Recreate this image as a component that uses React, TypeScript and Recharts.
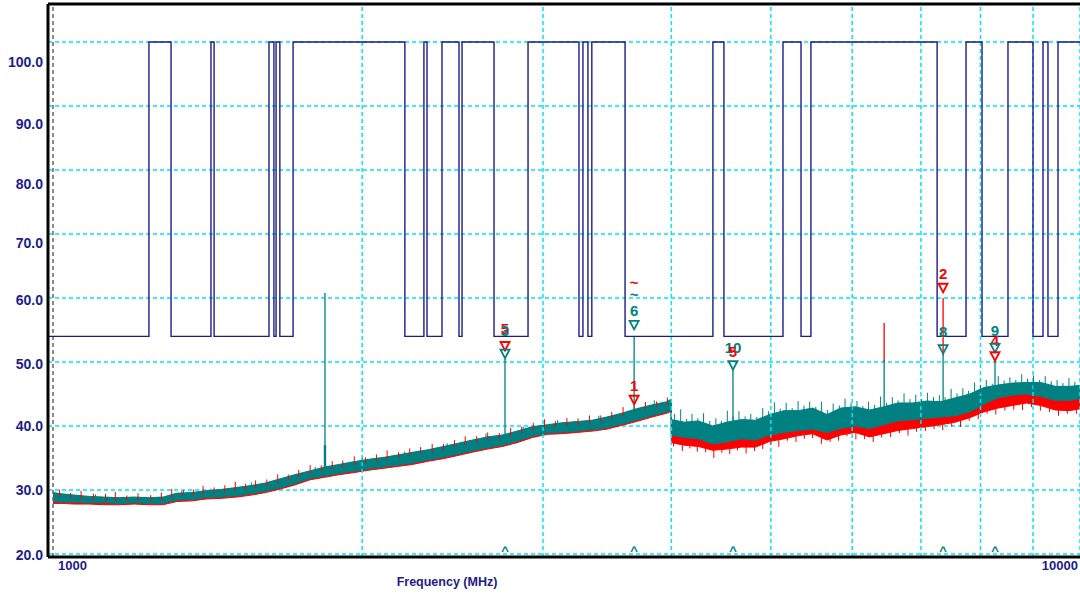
import React from "react";
import {
  ComposedChart,
  Area,
  Line,
  XAxis,
  YAxis,
  CartesianGrid,
  ReferenceLine,
  ReferenceDot,
} from "recharts";

// ---------- data ----------
// Trace envelope, band below 4 GHz (MHz / dBuV)
const FREQ_A = [1000, 1020, 1050, 1085, 1120, 1160, 1200, 1240, 1280, 1320, 1365, 1410, 1460, 1510, 1560, 1610, 1660, 1720, 1780, 1840, 1900, 1960, 2030, 2100, 2170, 2240, 2320, 2400, 2480, 2560, 2650, 2740, 2830, 2930, 3030, 3130, 3240, 3350, 3460, 3580, 3700, 3830, 3960, 3999];
const TEAL_LO_A = [28.2, 28.1, 28.1, 28.0, 28.0, 27.9, 28.0, 27.9, 27.9, 28.4, 28.5, 28.8, 28.9, 29.1, 29.4, 29.8, 30.3, 31.0, 31.8, 32.2, 32.6, 32.9, 33.3, 33.6, 33.9, 34.2, 34.7, 35.1, 35.6, 36.1, 36.6, 37.0, 37.6, 38.4, 38.9, 39.0, 39.2, 39.4, 39.7, 40.3, 40.9, 41.6, 42.2, 42.5];
const TEAL_HI_A = [29.6, 29.4, 29.2, 29.0, 28.9, 28.8, 28.9, 28.8, 28.9, 29.5, 29.6, 29.9, 30.1, 30.4, 30.7, 31.1, 31.7, 32.4, 33.0, 33.6, 34.0, 34.4, 34.8, 35.1, 35.5, 35.9, 36.3, 36.8, 37.3, 37.8, 38.3, 38.6, 39.2, 39.9, 40.2, 40.5, 40.7, 40.9, 41.4, 42.0, 42.7, 43.3, 43.8, 44.2];
const RED_LO_A = [27.9, 27.9, 27.8, 27.8, 27.7, 27.7, 27.8, 27.7, 27.7, 28.2, 28.3, 28.6, 28.7, 28.9, 29.2, 29.6, 30.1, 30.8, 31.6, 32.0, 32.4, 32.7, 33.1, 33.4, 33.7, 34.0, 34.5, 34.9, 35.4, 35.9, 36.4, 36.8, 37.4, 38.2, 38.7, 38.8, 39.0, 39.2, 39.5, 40.1, 40.7, 41.4, 42.0, 42.3];
const RED_HI_A = [29.5, 29.3, 29.1, 28.9, 28.8, 28.7, 28.8, 28.7, 28.8, 29.4, 29.5, 29.8, 30.0, 30.3, 30.6, 31.0, 31.6, 32.3, 32.9, 33.5, 33.9, 34.3, 34.7, 35.0, 35.4, 35.8, 36.2, 36.7, 37.2, 37.7, 38.2, 38.5, 39.1, 39.8, 40.1, 40.4, 40.6, 40.8, 41.3, 41.9, 42.6, 43.2, 43.7, 44.1];

// Trace envelope, band above 4 GHz
const FREQ_B = [4000, 4120, 4250, 4390, 4530, 4680, 4830, 4990, 5150, 5320, 5490, 5670, 5850, 6040, 6240, 6440, 6650, 6870, 7090, 7320, 7560, 7810, 8060, 8320, 8590, 8870, 9160, 9460, 9770, 10090, 10230];
const TEAL_LO_B = [38.6, 38.2, 38.0, 37.2, 37.5, 38.0, 37.8, 38.6, 39.0, 39.3, 39.5, 39.0, 39.6, 40.0, 39.6, 40.2, 40.8, 41.0, 41.2, 41.4, 41.6, 42.2, 43.4, 44.4, 44.8, 45.0, 44.6, 44.0, 44.0, 44.4, 44.4];
const TEAL_HI_B = [41.0, 40.6, 40.8, 40.0, 40.6, 41.0, 40.9, 41.8, 42.4, 42.4, 42.8, 41.8, 42.8, 43.0, 42.5, 43.0, 43.6, 43.6, 43.9, 43.8, 44.4, 45.0, 46.0, 46.4, 46.7, 46.8, 46.8, 46.2, 46.2, 46.4, 46.4];
const RED_LO_B = [37.4, 37.0, 36.8, 36.2, 36.4, 36.7, 36.7, 37.6, 38.0, 38.5, 38.8, 37.8, 38.6, 39.0, 38.3, 38.8, 39.3, 39.6, 39.9, 40.2, 40.6, 41.3, 42.2, 42.8, 43.2, 43.6, 43.2, 42.5, 42.4, 42.8, 42.8];
const RED_HI_B = [39.0, 38.7, 38.5, 37.8, 38.0, 38.4, 38.2, 39.0, 39.6, 40.0, 40.3, 39.3, 40.1, 40.5, 39.8, 40.3, 40.8, 41.0, 41.2, 41.6, 42.0, 42.9, 43.8, 44.4, 44.8, 45.1, 44.8, 44.2, 44.0, 44.4, 44.4];

// Noise spikes on the red trace (frequency, level where the spike leaves the band, tip level)
const RED_NOISE_FREQ = [1015, 1040, 1065, 1095, 1125, 1150, 1180, 1210, 1245, 1275, 1305, 1335, 1370, 1400, 1435, 1470, 1505, 1540, 1575, 1615, 1655, 1695, 1735, 1780, 1825, 1870, 1915, 1965, 2015, 2065, 2115, 2170, 2225, 2280, 2340, 2400, 2460, 2520, 2585, 2650, 2720, 2790, 2860, 2935, 3010, 3085, 3165, 3245, 3330, 3415, 3500, 3590, 3680, 3775, 3870, 3965,
  4020, 4100, 4170, 4240, 4320, 4400, 4480, 4560, 4640, 4730, 4820, 4910, 5000, 5090, 5190, 5290, 5390, 5490, 5600, 5710, 5820, 5930, 6050, 6170, 6290, 6410, 6540, 6670, 6800, 6930, 7070, 7210, 7350, 7500, 7650, 7800, 7960, 8120, 8280, 8450, 8620, 8790, 8970, 9150, 9340, 9530, 9720, 9920, 10120];
const RED_NOISE_FROM = [28.95, 28.75, 28.6, 28.5, 28.4, 28.3, 28.35, 28.4, 28.3, 28.4, 28.8, 29.05, 29.1, 29.35, 29.5, 29.65, 29.9, 30.1, 30.3, 30.65, 31.15, 31.6, 32.05, 32.5, 32.95, 33.3, 33.6, 33.95, 34.2, 34.45, 34.7, 35.0, 35.3, 35.7, 35.9, 36.3, 36.7, 37.0, 37.4, 37.8, 38.0, 38.4, 38.9, 39.4, 39.65, 39.85, 40.05, 40.2, 40.35, 40.75, 41.1, 41.55, 42.1, 42.55, 42.95, 43.35,
  37.9, 37.7, 37.5, 37.4, 37.1, 36.8, 36.9, 37.1, 37.2, 37.3, 37.3, 37.8, 38.2, 38.45, 38.7, 39.0, 39.2, 39.4, 38.8, 38.6, 39.1, 39.4, 39.6, 39.15, 39.0, 39.3, 39.65, 39.9, 40.1, 40.3, 40.5, 40.65, 40.85, 41.1, 41.45, 41.9, 42.45, 42.95, 43.3, 43.6, 43.85, 44.1, 44.05, 43.8, 43.4, 43.1, 43.0, 43.2, 43.4];
const RED_NOISE_TIP = [30.05, 29.55, 29.9, 29.4, 29.4, 29.7, 29.15, 29.5, 29.2, 29.6, 30.2, 29.85, 30.1, 30.65, 30.4, 30.75, 31.3, 31.0, 31.5, 31.65, 32.45, 32.4, 33.15, 33.9, 33.85, 34.5, 34.6, 35.25, 35.1, 35.55, 36.2, 35.9, 36.5, 36.7, 37.2, 37.2, 37.8, 38.4, 38.4, 39.0, 38.9, 39.7, 39.9, 40.5, 41.05, 40.75, 41.25, 41.2, 41.65, 41.65, 42.2, 42.95, 43.1, 43.75, 43.85, 44.45,
  36.8, 36.1, 36.5, 36.0, 35.9, 35.0, 35.8, 35.6, 36.2, 35.7, 36.1, 36.4, 37.1, 36.75, 37.7, 37.5, 38.0, 38.1, 37.2, 37.5, 37.7, 38.4, 37.9, 37.95, 37.5, 38.2, 38.25, 38.9, 38.5, 39.1, 39.2, 39.55, 39.35, 39.9, 39.85, 40.8, 41.05, 41.95, 41.8, 42.4, 42.55, 42.5, 42.95, 42.4, 42.2, 41.6, 41.9, 41.9, 42.2];

// Noise spikes on the teal trace
const TEAL_NOISE_FREQ = [1100, 1340, 1560, 1800, 2000, 2200, 2420, 2640, 2870, 3100, 3400, 3850,
  4030, 4085, 4140, 4190, 4245, 4300, 4360, 4420, 4475, 4535, 4595, 4655, 4720, 4780, 4845, 4910, 4975, 5040, 5105, 5175, 5245, 5315, 5385, 5455, 5530, 5600, 5675, 5750, 5830, 5905, 5985, 6065, 6145, 6225, 6310, 6395, 6480, 6565, 6650, 6740, 6830, 6920, 7010, 7105, 7200, 7295, 7390, 7490, 7590, 7690, 7790, 7895, 8000, 8105, 8215, 8325, 8435, 8545, 8660, 8775, 8890, 9010, 9130, 9250, 9375, 9500, 9625, 9755, 9885, 10015, 10150];
const TEAL_NOISE_FROM = [28.6, 29.2, 30.2, 32.7, 34.3, 35.2, 36.6, 38.0, 39.1, 40.0, 40.6, 43.1,
  40.2, 39.9, 39.8, 39.9, 40.0, 39.7, 39.4, 39.3, 39.6, 39.8, 40.0, 40.2, 40.2, 40.1, 40.2, 40.6, 40.9, 41.2, 41.4, 41.6, 41.6, 41.6, 41.8, 41.9, 41.8, 41.4, 41.0, 41.5, 41.9, 42.1, 42.2, 42.1, 41.9, 41.7, 41.9, 42.1, 42.3, 42.6, 42.8, 42.8, 42.8, 42.9, 43.0, 43.1, 43.05, 43.0, 43.2, 43.4, 43.7, 43.9, 44.2, 44.5, 45.0, 45.3, 45.4, 45.6, 45.7, 45.8, 45.9, 46.0, 46.0, 46.0, 46.0, 45.8, 45.6, 45.4, 45.4, 45.4, 45.5, 45.6, 45.6];
const TEAL_NOISE_TIP = [29.3, 30.0, 31.2, 33.6, 35.0, 36.0, 37.3, 38.8, 39.9, 40.9, 41.6, 44.0,
  41.9, 42.6, 41.1, 41.9, 41.2, 42.0, 40.8, 41.2, 40.8, 42.4, 41.5, 42.3, 41.5, 41.9, 41.4, 42.8, 42.3, 43.7, 42.7, 43.6, 42.8, 43.9, 43.2, 43.8, 43.0, 43.8, 42.5, 43.5, 43.2, 44.3, 43.6, 43.9, 43.1, 43.8, 43.3, 44.6, 43.6, 44.5, 44.0, 45.1, 44.2, 44.9, 44.2, 45.2, 44.5, 44.8, 44.5, 45.8, 45.1, 45.9, 45.5, 46.8, 46.4, 47.2, 46.6, 47.8, 47.1, 47.6, 47.2, 48.1, 47.4, 47.9, 47.2, 47.8, 47.0, 47.2, 46.7, 47.5, 46.9, 47.5, 46.9];

// Limit line (step): frequency where the level starts, and level
const LIMIT_FREQ = [989, 1240, 1303, 1425, 1435, 1623, 1641, 1649, 1663, 1713, 2201, 2297, 2313, 2392, 2485, 2502, 2688, 2901, 3252, 3281, 3318, 3347, 3606, 4391, 4501, 5138, 5350, 5470, 7259, 7745, 8028, 8509, 9000, 9204, 9307, 9519, 10230];
const LIMIT_LEVEL = [54, 100, 54, 100, 54, 100, 54, 100, 54, 100, 54, 100, 54, 100, 54, 100, 54, 100, 54, 100, 54, 100, 54, 100, 54, 100, 54, 100, 54, 100, 54, 100, 54, 100, 54, 100, 100];

// Teal spikes / marker lines
const TEAL_SPIKE_FREQ = [1840, 1840, 2755, 3680, 4593, 6446, 7357, 8265];
const TEAL_SPIKE_BASE = [33.0, 33.5, 38.0, 42.0, 40.8, 41.5, 42.5, 44.5];
const TEAL_SPIKE_TOP = [60.8, 37.0, 50.6, 53.9, 48.8, 50.3, 51.1, 50.3];
// Red spikes
const RED_SPIKE_FREQ = [6446, 7357];
const RED_SPIKE_BASE = [50.0, 51.0];
const RED_SPIKE_TOP = [56.1, 60.0];

// Marker annotations
const MARK_TEXT = ["5", "3", "▽", "▽", "~", "~", "6", "▽", "1", "▽", "10", "5", "▽", "2", "▽", "8", "▽", "9", "4", "▽", "▽", "^", "^", "^", "^", "^"];
const MARK_FREQ = [2755, 2755, 2755, 2755, 3680, 3680, 3680, 3680, 3680, 3680, 4593, 4593, 4593, 7357, 7357, 7357, 7357, 8265, 8265, 8265, 8265, 2755, 3680, 4593, 7357, 8265];
const MARK_LEVEL = [55.2, 54.9, 52.5, 51.3, 62.5, 60.5, 58.1, 55.8, 46.4, 44.1, 52.3, 51.6, 49.5, 63.9, 61.6, 54.7, 52.0, 55.0, 53.4, 52.2, 50.9, 20.6, 20.6, 20.6, 20.6, 20.6];
const MARK_TRACE = ["red", "teal", "red", "teal", "red", "teal", "teal", "teal", "red", "red", "teal", "red", "teal", "red", "red", "teal", "teal", "teal", "red", "teal", "red", "teal", "teal", "teal", "teal", "teal"];

// Axes
const Y_TICKS = [20, 30, 40, 50, 60, 70, 80, 90, 100];
const X_TICKS = [1000, 10000];
const X_GRID = [2000, 3000, 4000, 5000, 6000, 7000, 8000, 9000, 10000];
const X_DOMAIN: [number, number] = [988.85, 10226.7];
const Y_DOMAIN: [number, number] = [19.53, 105.94];

// ---------- styles ----------
const TEAL = "#008080";
const RED = "#ff0000";
const NAVY = "#1c1c8a";
const GRID = "#00e6f2";
const FONT = "'Liberation Sans', Arial, sans-serif";
// the instrument draws its level labels with a slight drift from the grid
const Y_LABEL_SHIFT: Record<number, number> = { 20: 1.5, 30: 0, 40: 0.5, 50: 2, 60: 2, 70: 9, 80: 14, 90: 17.5, 100: 19.5 };

const traceRows = [
  ...FREQ_A.map((f, i) => ({ f, teal: [TEAL_LO_A[i], TEAL_HI_A[i]], red: [RED_LO_A[i], RED_HI_A[i]] })),
  ...FREQ_B.map((f, i) => ({ f, teal: [TEAL_LO_B[i], TEAL_HI_B[i]], red: [RED_LO_B[i], RED_HI_B[i]] })),
];
const limitRows = LIMIT_FREQ.map((f, i) => ({ f, v: LIMIT_LEVEL[i] }));
const spikeRows = (freqs: number[], from: number[], to: number[]) =>
  freqs.flatMap((f, i) => [
    { f, v: from[i] as number | null },
    { f, v: to[i] as number | null },
    { f, v: null as number | null },
  ]);
const redNoise = spikeRows(RED_NOISE_FREQ, RED_NOISE_FROM, RED_NOISE_TIP);
const tealNoise = spikeRows(TEAL_NOISE_FREQ, TEAL_NOISE_FROM, TEAL_NOISE_TIP);
const tealSpikes = TEAL_SPIKE_FREQ.map((f, i) => [
  { f, v: TEAL_SPIKE_BASE[i] },
  { f, v: TEAL_SPIKE_TOP[i] },
]);
const redSpikes = RED_SPIKE_FREQ.map((f, i) => [
  { f, v: RED_SPIKE_BASE[i] },
  { f, v: RED_SPIKE_TOP[i] },
]);
const marks = MARK_TEXT.map((t, i) => ({ t, f: MARK_FREQ[i], v: MARK_LEVEL[i], c: MARK_TRACE[i] === "red" ? RED : TEAL }));

const YTick = (props: any) => {
  const { x, y, payload } = props;
  const shift = Y_LABEL_SHIFT[payload.value] ?? 0;
  return (
    <text x={x} y={y + shift} textAnchor="end" dominantBaseline="central" fill={NAVY} fontFamily={FONT} fontWeight="bold" fontSize={14}>
      {Number(payload.value).toFixed(1)}
    </text>
  );
};

const XTick = (props: any) => {
  const { x, y, payload } = props;
  const first = payload.value === X_TICKS[0];
  return (
    <text x={first ? x + 5 : x + 8} y={y + 13} textAnchor={first ? "start" : "end"} fill={NAVY} fontFamily={FONT} fontWeight="bold" fontSize={13}>
      {payload.value}
    </text>
  );
};

const renderMark = (p: any, m: { t: string; c: string }) => {
  const { cx, cy } = p;
  if (cx == null || cy == null) return <g />;
  if (m.t === "▽") {
    return (
      <polygon
        points={`${cx - 4.5},${cy - 4} ${cx + 4.5},${cy - 4} ${cx},${cy + 4.5}`}
        fill="none"
        stroke={m.c}
        strokeWidth={1.8}
      />
    );
  }
  return (
    <text x={cx} y={cy} textAnchor="middle" dominantBaseline="central" fill={m.c} fontFamily={FONT} fontWeight="bold" fontSize={m.t === "^" ? 13 : 15}>
      {m.t}
    </text>
  );
};

export default function App() {
  return (
    <div style={{ position: "absolute", left: 0, top: 0, width: 1080, height: 595, overflow: "hidden", background: "#fff" }}>
      <ComposedChart width={1090} height={595} data={traceRows} margin={{ top: 4, right: 0, bottom: 0, left: 0 }}>
        <CartesianGrid vertical={false} stroke={GRID} strokeDasharray="4 3" strokeWidth={1.5} />
        {X_GRID.map((f) => (
          <ReferenceLine key={"g" + f} x={f} stroke={GRID} strokeDasharray="4 3" strokeWidth={1.5} />
        ))}
        <ReferenceLine x={1000} stroke="#666" strokeDasharray="4 3" strokeWidth={1.5} />
        <XAxis
          dataKey="f"
          type="number"
          scale="log"
          domain={X_DOMAIN}
          allowDataOverflow
          ticks={X_TICKS}
          tick={<XTick />}
          tickLine={false}
          tickSize={0}
          tickMargin={0}
          height={38}
          axisLine={{ stroke: "#000", strokeWidth: 3 }}
          label={(lp: any) => {
            const vb = lp.viewBox || {};
            return (
              <text x={(vb.x ?? 48) + 399} y={(vb.y ?? 557) + 29} textAnchor="middle" fill={NAVY} fontFamily={FONT} fontWeight="bold" fontSize={12.5}>
                Frequency (MHz)
              </text>
            );
          }}
        />
        <YAxis
          type="number"
          domain={Y_DOMAIN}
          allowDataOverflow
          ticks={Y_TICKS}
          tick={<YTick />}
          tickLine={false}
          tickSize={0}
          tickMargin={5}
          width={48}
          axisLine={{ stroke: "#000", strokeWidth: 3 }}
        />
        <ReferenceLine y={Y_DOMAIN[1]} stroke="#000" strokeWidth={3} />
        <Line data={limitRows} dataKey="v" type="stepAfter" stroke={NAVY} strokeWidth={1.4} dot={false} activeDot={false} isAnimationActive={false} />
        <Area dataKey="red" type="linear" stroke={RED} strokeWidth={1} fill={RED} fillOpacity={1} dot={false} activeDot={false} isAnimationActive={false} />
        <Line data={redNoise} dataKey="v" stroke={RED} strokeWidth={1} connectNulls={false} dot={false} activeDot={false} isAnimationActive={false} />
        <Area dataKey="teal" type="linear" stroke={TEAL} strokeWidth={1} fill={TEAL} fillOpacity={1} dot={false} activeDot={false} isAnimationActive={false} />
        <Line data={tealNoise} dataKey="v" stroke={TEAL} strokeWidth={1} connectNulls={false} dot={false} activeDot={false} isAnimationActive={false} />
        {redSpikes.map((d, i) => (
          <Line key={"rs" + i} data={d} dataKey="v" stroke={RED} strokeWidth={1.3} dot={false} activeDot={false} isAnimationActive={false} />
        ))}
        {tealSpikes.map((d, i) => (
          <Line key={"ts" + i} data={d} dataKey="v" stroke={TEAL} strokeWidth={i === 1 ? 2.4 : 1.3} dot={false} activeDot={false} isAnimationActive={false} />
        ))}
        {marks.map((m, i) => (
          <ReferenceDot key={"m" + i} x={m.f} y={m.v} r={0} ifOverflow="visible" shape={(p: any) => renderMark(p, m)} />
        ))}
      </ComposedChart>
    </div>
  );
}
